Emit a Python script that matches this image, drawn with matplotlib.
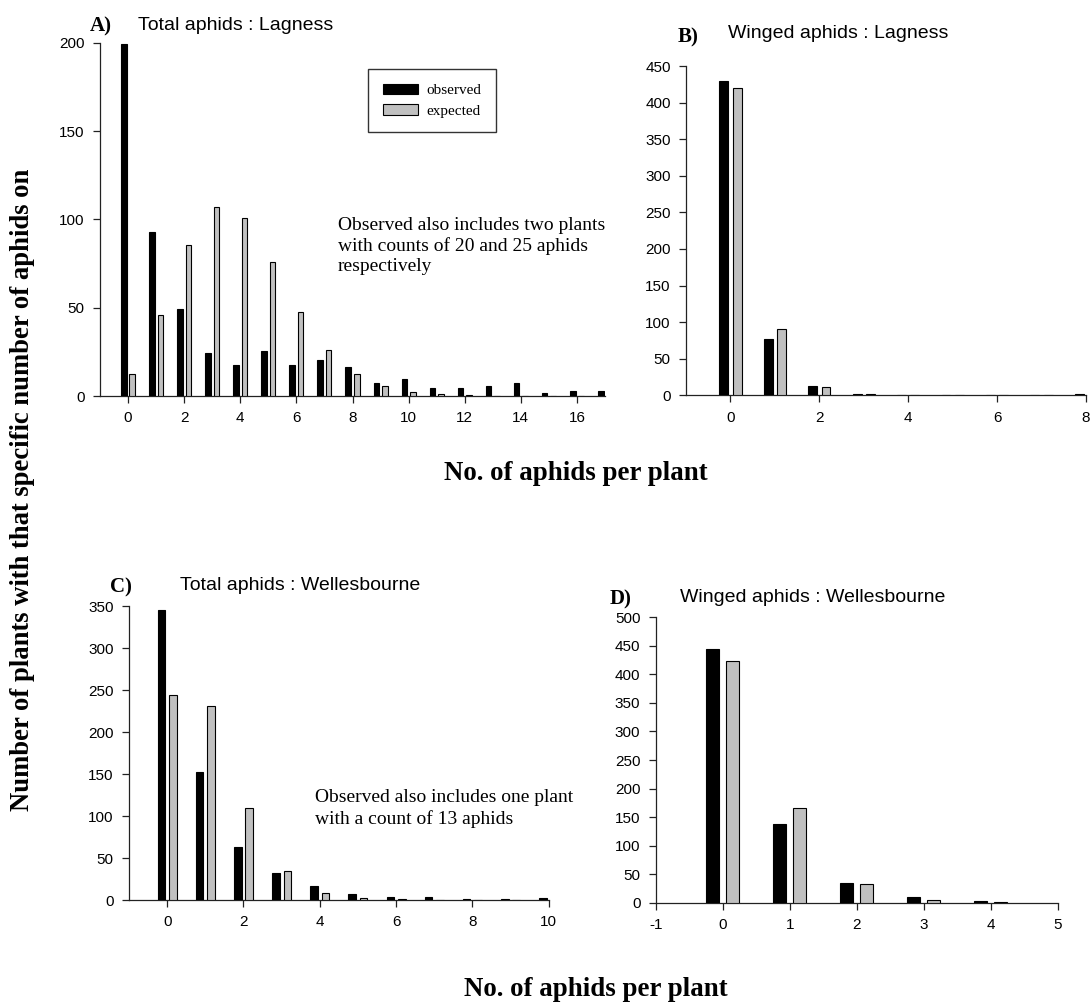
import matplotlib
matplotlib.use("Agg")
import matplotlib.pyplot as plt
import numpy as np
from matplotlib.patches import Patch

plt.rcParams["axes.unicode_minus"] = False

# ---------------- data ----------------
a_counts = list(range(0, 18))
a_observed = [199, 93, 49, 24.5, 17.5, 25.4, 17.5, 20.5, 16.4, 7.5, 9.4, 4.5, 4.5, 5.6, 7.5, 1.5, 2.6, 2.6]
a_expected = [12.4, 45.8, 85.7, 107, 101, 76, 47.8, 25.8, 12.4, 5.6, 2.3, 0.9, 0.6, 0, 0, 0, 0, 0]

b_counts = list(range(0, 9))
b_observed = [429, 77.4, 12.7, 1.5, 0, 0, 0, 0, 1.5]
b_expected = [419.4, 91, 10.9, 1.3, 0, 0, 0, 0, 0]

c_counts = list(range(0, 11))
c_observed = [345, 152, 62.7, 32.5, 16.3, 7.5, 3.2, 3.2, 1.5, 1.5, 2.4]
c_expected = [243.6, 231, 109, 34.5, 8.7, 2.0, 0.6, 0, 0, 0, 0]

d_counts = list(range(0, 5))
d_observed = [443.9, 137.9, 33.9, 10.5, 3.5]
d_expected = [424, 165.9, 32.7, 4.1, 1.0]

# ---------------- layout ----------------
W, H = 1091, 1007
fig = plt.figure(figsize=(W / 100, H / 100), dpi=100)

SANS = "Liberation Sans"
SERIF = "Liberation Serif"


def rect(left, right, top, bottom):
    return [left / W, 1 - bottom / H, (right - left) / W, (bottom - top) / H]


def fx(x):
    return x / W


def fy(y):
    return 1 - y / H


def panel(r, counts, obs, exp, xlim, xticks, ylim, yticks):
    ax = fig.add_axes(r)
    x = np.array(counts, dtype=float)
    ax.bar(x - 0.15, obs, width=0.2, color="black", edgecolor="black", linewidth=0.8, zorder=3)
    ax.bar(x + 0.15, exp, width=0.2, color="#c0c0c0", edgecolor="black", linewidth=0.8, zorder=3)
    ax.set_xlim(*xlim)
    ax.set_ylim(*ylim)
    ax.set_xticks(xticks)
    ax.set_yticks(yticks)
    for s in ("top", "right"):
        ax.spines[s].set_visible(False)
    for s in ("left", "bottom"):
        ax.spines[s].set_linewidth(0.9)
        ax.spines[s].set_color("#222222")
    ax.tick_params(axis="both", direction="out", length=5, width=0.9, color="#222222",
                   labelsize=11, pad=6)
    for lab in ax.get_xticklabels() + ax.get_yticklabels():
        lab.set_fontfamily(SANS)
    ax.patch.set_alpha(0)
    return ax


axA = panel(rect(100, 605, 42.7, 396), a_counts, a_observed, a_expected,
            (-1, 17), list(range(0, 17, 2)), (0, 200), list(range(0, 201, 50)))
axB = panel(rect(686, 1086, 66, 395.3), b_counts, b_observed, b_expected,
            (-1, 8), list(range(0, 9, 2)), (0, 450), list(range(0, 451, 50)))
axC = panel(rect(129, 548.7, 606, 900), c_counts, c_observed, c_expected,
            (-1, 10), list(range(0, 11, 2)), (0, 350), list(range(0, 351, 50)))
axD = panel(rect(655.7, 1057.7, 617.3, 902.7), d_counts, d_observed, d_expected,
            (-1, 5), list(range(-1, 6)), (0, 500), list(range(0, 501, 50)))

# legend
handles = [Patch(facecolor="black", edgecolor="black", linewidth=0.8, label="observed"),
           Patch(facecolor="#c0c0c0", edgecolor="black", linewidth=0.8, label="expected")]
leg = axA.legend(handles=handles, loc="upper left",
                 bbox_to_anchor=(fx(368), fy(69)), bbox_transform=fig.transFigure,
                 prop={"family": SERIF, "size": 11}, frameon=True, fancybox=False,
                 handlelength=2.35, handleheight=0.72, handletextpad=0.55,
                 borderpad=0.95, labelspacing=0.45, borderaxespad=0)
leg.get_frame().set_edgecolor("black")
leg.get_frame().set_linewidth(1.0)

# panel labels and titles
fig.text(fx(90), fy(26), "A)", family=SERIF, weight="bold", fontsize=15, ha="left", va="center")
fig.text(fx(138), fy(25), "Total aphids : Lagness", family=SANS, fontsize=14, ha="left", va="center")
fig.text(fx(678), fy(37), "B)", family=SERIF, weight="bold", fontsize=15, ha="left", va="center")
fig.text(fx(728), fy(34), "Winged aphids : Lagness", family=SANS, fontsize=14, ha="left", va="center")
fig.text(fx(110), fy(587), "C)", family=SERIF, weight="bold", fontsize=15, ha="left", va="center")
fig.text(fx(180), fy(585), "Total aphids : Wellesbourne", family=SANS, fontsize=14, ha="left", va="center")
fig.text(fx(610), fy(599), "D)", family=SERIF, weight="bold", fontsize=15, ha="left", va="center")
fig.text(fx(680), fy(597), "Winged aphids : Wellesbourne", family=SANS, fontsize=14, ha="left", va="center")

# annotations
fig.text(fx(338), fy(246), "Observed also includes two plants\nwith counts of 20 and 25 aphids\nrespectively",
         family=SERIF, fontsize=14, ha="left", va="center", linespacing=1.24)
fig.text(fx(315), fy(808.5), "Observed also includes one plant\nwith a count of 13 aphids",
         family=SERIF, fontsize=14, ha="left", va="center", linespacing=1.24)

# axis labels
fig.text(fx(576), fy(473), "No. of aphids per plant", family=SERIF, weight="bold", fontsize=19.4,
         ha="center", va="center")
fig.text(fx(596), fy(990), "No. of aphids per plant", family=SERIF, weight="bold", fontsize=19.4,
         ha="center", va="center")
fig.text(fx(23), fy(490), "Number of plants with that specific number of aphids on", family=SERIF,
         weight="bold", fontsize=19.2, rotation=90, ha="center", va="center")

fig.savefig("out.png", dpi=100, facecolor="white")
